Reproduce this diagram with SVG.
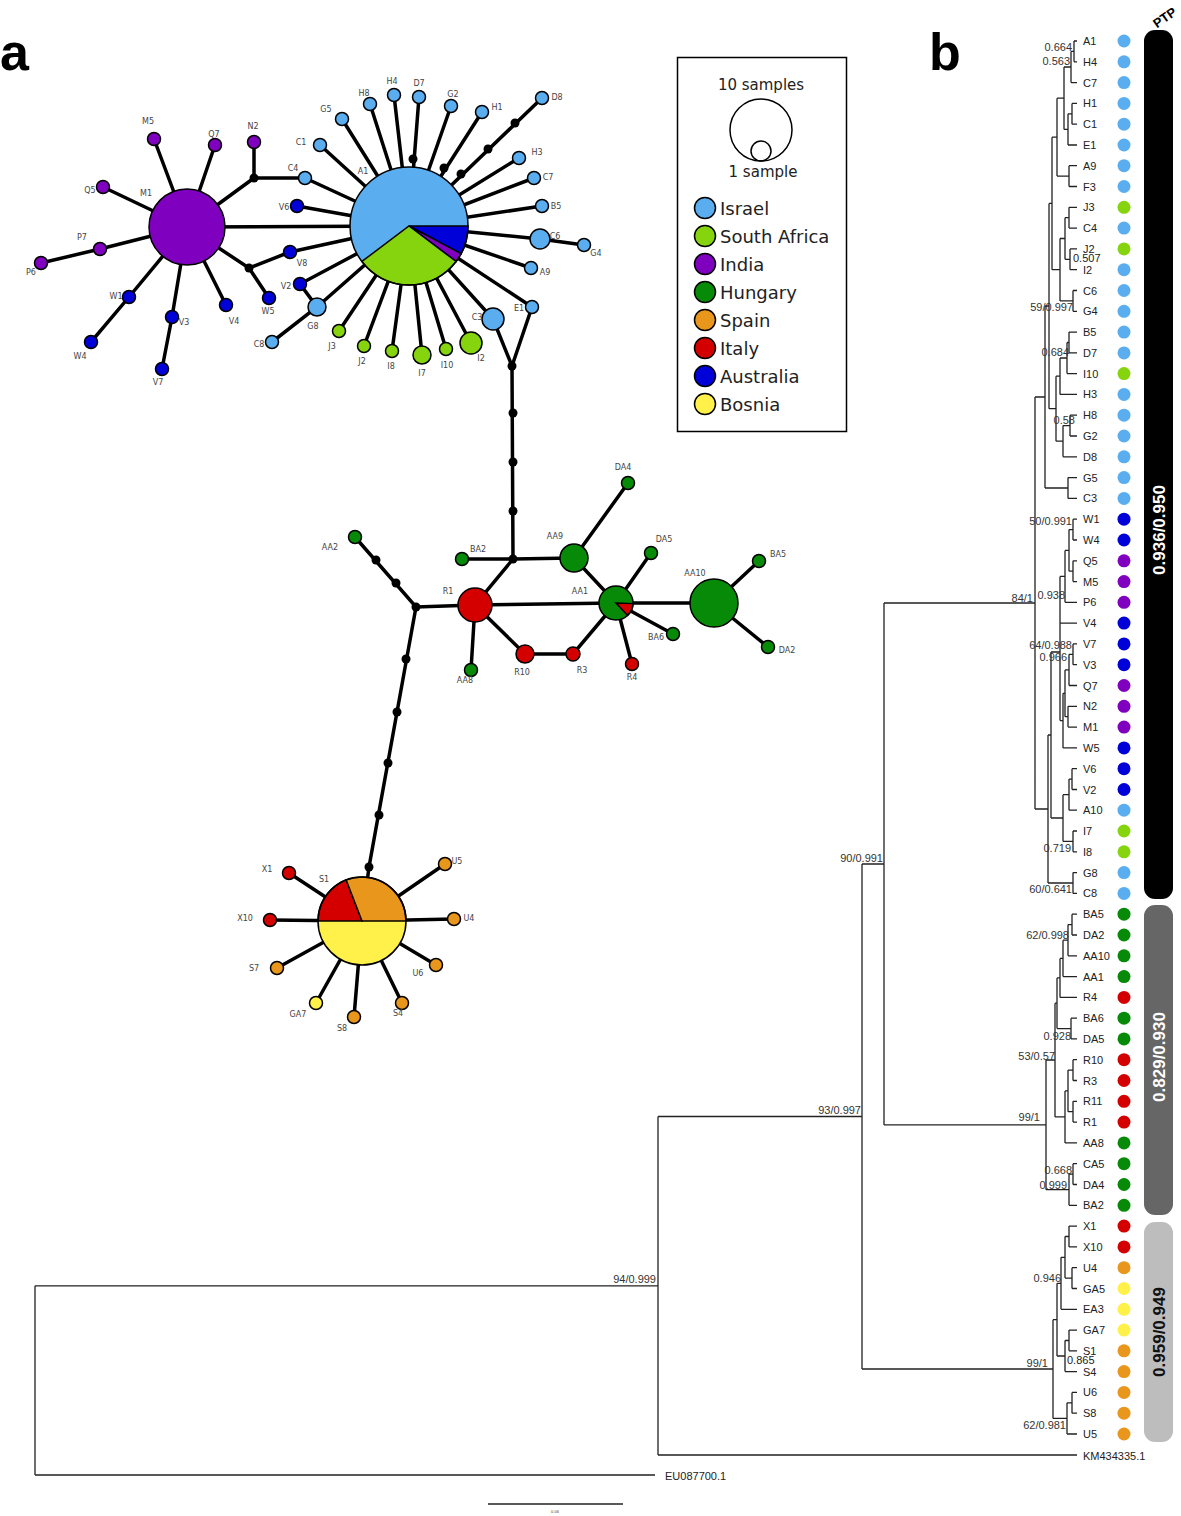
<svg xmlns="http://www.w3.org/2000/svg" width="1181" height="1516" viewBox="0 0 1181 1516">
<style>
.e{stroke:#000;stroke-width:3.5;fill:none;stroke-linecap:round}
.n{stroke:#000;stroke-width:1.5}
.lb{font-family:"DejaVu Sans",sans-serif;font-size:8px;fill:#444;text-anchor:middle}
.isr{fill:#5aaef0}.saf{fill:#86d40e}.ind{fill:#7f00bf}.hun{fill:#078a07}.spa{fill:#e8961c}.ita{fill:#d40000}.aus{fill:#0000d8}.bos{fill:#fff04a}
.mv{fill:#000}
.t{stroke:#222;stroke-width:1.3;fill:none}
.tl{font-family:"Liberation Sans",sans-serif;font-size:11px;fill:#222}
.bl{font-family:"Liberation Sans",sans-serif;font-size:11px;fill:#333;text-anchor:end}
.lg{font-family:"DejaVu Sans",sans-serif;font-size:18px;fill:#222}
.pl{font-family:"Liberation Sans",sans-serif;font-size:52px;font-weight:bold;fill:#000}
.bt{font-family:"Liberation Sans",sans-serif;font-size:17px;font-weight:bold;text-anchor:middle}
</style>
<rect width="1181" height="1516" fill="#fff"/>
<text class="pl" x="0" y="70">a</text>
<text class="pl" x="929" y="70">b</text>

<!-- network connectors -->
<g id="network-edges" class="e">
<path d="M187 227L154 139M187 227L215 145M187 227L254 178L254 142M254 178L305 178M187 227L103 187M187 227L100 249L41 263M187 227L129 297L91 342M187 227L172 317L162 369M187 227L226 305M187 227L249 268L269 298M249 268L290 252M187 227L409 226"/>
<path d="M409 226L305 178M409 226L297 206M409 226L290 252M409 226L300 284L317 307L272 342M409 226L317 307M409 226L320 145M409 226L342 119M409 226L370 104M409 226L394 95M409 226L419 97M409 226L451 106M409 226L482 112M409 226L542 98M409 226L519 158M409 226L534 178M409 226L542 206M409 226L540 239L584 245M409 226L531 268M409 226L532 307M409 226L493 319M409 226L471 343M409 226L446 349M409 226L422 355M409 226L392 351M409 226L364 346M409 226L339 331"/>
<path d="M493 319L512 366L532 307M512 366L513 559L462 559M513 559L574 558L616 603M574 558L628 483M513 559L475 605L616 603M475 605L416 607L355 537M416 607L369 867L362 921M475 605L471 670M475 605L525 654L573 654L616 603M616 603L651 553M616 603L714 603L759 561M714 603L768 647M616 603L673 634M616 603L632 664"/>
<path d="M362 921L289 873M362 921L270 920M362 921L277 968M362 921L316 1003M362 921L354 1017M362 921L402 1003M362 921L436 965M362 921L454 919M362 921L445 864"/>
</g>

<!-- median vectors -->
<g id="median-vectors" class="mv">
<circle cx="254" cy="178" r="4.5"/><circle cx="249" cy="268" r="4.5"/><circle cx="413" cy="159" r="4.5"/><circle cx="444" cy="168" r="4.5"/>
<circle cx="461" cy="174" r="4.5"/><circle cx="488" cy="149" r="4.5"/><circle cx="515" cy="123" r="4.5"/><circle cx="512" cy="366" r="4.5"/>
<circle cx="513" cy="413" r="4.5"/><circle cx="513" cy="462" r="4.5"/><circle cx="513" cy="511" r="4.5"/><circle cx="513" cy="559" r="4.5"/>
<circle cx="416" cy="607" r="4.5"/><circle cx="396" cy="583" r="4.5"/><circle cx="376" cy="560" r="4.5"/>
<circle cx="406" cy="659" r="4.5"/><circle cx="397" cy="712" r="4.5"/><circle cx="388" cy="763" r="4.5"/><circle cx="379" cy="815" r="4.5"/><circle cx="369" cy="867" r="4.5"/>
</g>

<!-- India / Australia cluster -->
<g id="n-M1"><circle class="n ind" cx="187" cy="227" r="38"/><text class="lb" x="146" y="196">M1</text></g>
<g id="n-M5"><circle class="n ind" cx="154" cy="139" r="6.5"/><text class="lb" x="148" y="124">M5</text></g>
<g id="n-Q7"><circle class="n ind" cx="215" cy="145" r="6.5"/><text class="lb" x="214" y="137">Q7</text></g>
<g id="n-N2"><circle class="n ind" cx="254" cy="142" r="6.5"/><text class="lb" x="253" y="129">N2</text></g>
<g id="n-Q5"><circle class="n ind" cx="103" cy="187" r="6.5"/><text class="lb" x="90" y="193">Q5</text></g>
<g id="n-P7"><circle class="n ind" cx="100" cy="249" r="6.5"/><text class="lb" x="82" y="240">P7</text></g>
<g id="n-P6"><circle class="n ind" cx="41" cy="263" r="6.5"/><text class="lb" x="31" y="275">P6</text></g>
<g id="n-W1"><circle class="n aus" cx="129" cy="297" r="6.5"/><text class="lb" x="116" y="299">W1</text></g>
<g id="n-W4"><circle class="n aus" cx="91" cy="342" r="6.5"/><text class="lb" x="80" y="359">W4</text></g>
<g id="n-V3"><circle class="n aus" cx="172" cy="317" r="6.5"/><text class="lb" x="184" y="325">V3</text></g>
<g id="n-V7"><circle class="n aus" cx="162" cy="369" r="6.5"/><text class="lb" x="158" y="385">V7</text></g>
<g id="n-V4"><circle class="n aus" cx="226" cy="305" r="6.5"/><text class="lb" x="234" y="324">V4</text></g>
<g id="n-W5"><circle class="n aus" cx="269" cy="298" r="6.5"/><text class="lb" x="268" y="314">W5</text></g>
<g id="n-V8"><circle class="n aus" cx="290" cy="252" r="6.5"/><text class="lb" x="302" y="266">V8</text></g>
<g id="n-V6"><circle class="n aus" cx="297" cy="206" r="6.5"/><text class="lb" x="284" y="210">V6</text></g>
<g id="n-V2"><circle class="n aus" cx="300" cy="284" r="6.5"/><text class="lb" x="286" y="289">V2</text></g>
<g id="n-G8"><circle class="n isr" cx="317" cy="307" r="9"/><text class="lb" x="313" y="329">G8</text></g>
<g id="n-C8"><circle class="n isr" cx="272" cy="342" r="6.5"/><text class="lb" x="259" y="347">C8</text></g>

<!-- Israel cluster -->
<g id="n-C4"><circle class="n isr" cx="305" cy="178" r="6.5"/><text class="lb" x="293" y="171">C4</text></g>
<g id="n-C1"><circle class="n isr" cx="320" cy="145" r="6.5"/><text class="lb" x="301" y="145">C1</text></g>
<g id="n-G5"><circle class="n isr" cx="342" cy="119" r="6.5"/><text class="lb" x="326" y="112">G5</text></g>
<g id="n-H8"><circle class="n isr" cx="370" cy="104" r="6.5"/><text class="lb" x="364" y="96">H8</text></g>
<g id="n-H4"><circle class="n isr" cx="394" cy="95" r="6.5"/><text class="lb" x="392" y="84">H4</text></g>
<g id="n-D7"><circle class="n isr" cx="419" cy="97" r="6.5"/><text class="lb" x="419" y="86">D7</text></g>
<g id="n-G2"><circle class="n isr" cx="451" cy="106" r="6.5"/><text class="lb" x="453" y="97">G2</text></g>
<g id="n-H1"><circle class="n isr" cx="482" cy="112" r="6.5"/><text class="lb" x="497" y="110">H1</text></g>
<g id="n-D8"><circle class="n isr" cx="542" cy="98" r="6.5"/><text class="lb" x="557" y="100">D8</text></g>
<g id="n-H3"><circle class="n isr" cx="519" cy="158" r="6.5"/><text class="lb" x="537" y="155">H3</text></g>
<g id="n-C7"><circle class="n isr" cx="534" cy="178" r="6.5"/><text class="lb" x="548" y="180">C7</text></g>
<g id="n-B5"><circle class="n isr" cx="542" cy="206" r="6.5"/><text class="lb" x="556" y="209">B5</text></g>
<g id="n-C6"><circle class="n isr" cx="540" cy="239" r="10"/><text class="lb" x="555" y="239">C6</text></g>
<g id="n-G4"><circle class="n isr" cx="584" cy="245" r="6.5"/><text class="lb" x="596" y="256">G4</text></g>
<g id="n-A9"><circle class="n isr" cx="531" cy="268" r="6.5"/><text class="lb" x="545" y="275">A9</text></g>
<g id="n-E1"><circle class="n isr" cx="532" cy="307" r="6.5"/><text class="lb" x="519" y="311">E1</text></g>
<g id="n-C3"><circle class="n isr" cx="493" cy="319" r="11"/><text class="lb" x="477" y="320">C3</text></g>
<g id="n-I2"><circle class="n saf" cx="471" cy="343" r="11"/><text class="lb" x="481" y="361">I2</text></g>
<g id="n-I10"><circle class="n saf" cx="446" cy="349" r="6.5"/><text class="lb" x="447" y="368">I10</text></g>
<g id="n-I7"><circle class="n saf" cx="422" cy="355" r="9"/><text class="lb" x="422" y="376">I7</text></g>
<g id="n-I8"><circle class="n saf" cx="392" cy="351" r="6.5"/><text class="lb" x="391" y="369">I8</text></g>
<g id="n-J2"><circle class="n saf" cx="364" cy="346" r="6.5"/><text class="lb" x="362" y="364">J2</text></g>
<g id="n-J3"><circle class="n saf" cx="339" cy="331" r="6.5"/><text class="lb" x="332" y="349">J3</text></g>
<g id="n-A1">
<circle class="isr" cx="409" cy="226" r="59"/>
<path class="n aus" d="M409 226L468 226A59 59 0 0 1 461.1 253.7Z"/>
<path class="n ind" d="M409 226L461.1 253.7A59 59 0 0 1 456.1 261.5Z"/>
<path class="n saf" d="M409 226L456.1 261.5A59 59 0 0 1 361.9 261.5Z"/>
<circle cx="409" cy="226" r="59" fill="none" stroke="#000" stroke-width="1.5"/>
<text class="lb" x="363" y="174">A1</text></g>

<!-- Hungary / Italy cluster -->
<g id="n-BA2"><circle class="n hun" cx="462" cy="559" r="6.5"/><text class="lb" x="478" y="552">BA2</text></g>
<g id="n-AA9"><circle class="n hun" cx="574" cy="558" r="14"/><text class="lb" x="555" y="539">AA9</text></g>
<g id="n-AA2"><circle class="n hun" cx="355" cy="537" r="6.5"/><text class="lb" x="330" y="550">AA2</text></g>
<g id="n-R1"><circle class="n ita" cx="475" cy="605" r="17"/><text class="lb" x="448" y="594">R1</text></g>
<g id="n-DA4"><circle class="n hun" cx="628" cy="483" r="6.5"/><text class="lb" x="623" y="470">DA4</text></g>
<g id="n-DA5"><circle class="n hun" cx="651" cy="553" r="6.5"/><text class="lb" x="664" y="542">DA5</text></g>
<g id="n-AA10"><circle class="n hun" cx="714" cy="603" r="24"/><text class="lb" x="695" y="576">AA10</text></g>
<g id="n-BA5"><circle class="n hun" cx="759" cy="561" r="6.5"/><text class="lb" x="778" y="557">BA5</text></g>
<g id="n-DA2"><circle class="n hun" cx="768" cy="647" r="6.5"/><text class="lb" x="787" y="653">DA2</text></g>
<g id="n-BA6"><circle class="n hun" cx="673" cy="634" r="6.5"/><text class="lb" x="656" y="640">BA6</text></g>
<g id="n-R4"><circle class="n ita" cx="632" cy="664" r="6.5"/><text class="lb" x="632" y="680">R4</text></g>
<g id="n-R3"><circle class="n ita" cx="573" cy="654" r="7"/><text class="lb" x="582" y="673">R3</text></g>
<g id="n-R10"><circle class="n ita" cx="525" cy="654" r="9"/><text class="lb" x="522" y="675">R10</text></g>
<g id="n-AA8"><circle class="n hun" cx="471" cy="670" r="6.5"/><text class="lb" x="465" y="683">AA8</text></g>
<g id="n-AA1">
<circle class="hun" cx="616" cy="603" r="17"/>
<path class="n ita" d="M616 603L633 603.6A17 17 0 0 1 627.6 615.4Z"/>
<circle cx="616" cy="603" r="17" fill="none" stroke="#000" stroke-width="1.5"/>
<text class="lb" x="580" y="594">AA1</text></g>

<!-- Spain / Bosnia cluster -->
<g id="n-X1"><circle class="n ita" cx="289" cy="873" r="6.5"/><text class="lb" x="267" y="872">X1</text></g>
<g id="n-X10"><circle class="n ita" cx="270" cy="920" r="6.5"/><text class="lb" x="245" y="921">X10</text></g>
<g id="n-S7"><circle class="n spa" cx="277" cy="968" r="6.5"/><text class="lb" x="254" y="971">S7</text></g>
<g id="n-GA7"><circle class="n bos" cx="316" cy="1003" r="6.5"/><text class="lb" x="298" y="1017">GA7</text></g>
<g id="n-S8"><circle class="n spa" cx="354" cy="1017" r="6.5"/><text class="lb" x="342" y="1031">S8</text></g>
<g id="n-S4"><circle class="n spa" cx="402" cy="1003" r="6.5"/><text class="lb" x="398" y="1016">S4</text></g>
<g id="n-U6"><circle class="n spa" cx="436" cy="965" r="6.5"/><text class="lb" x="418" y="976">U6</text></g>
<g id="n-U4"><circle class="n spa" cx="454" cy="919" r="6.5"/><text class="lb" x="469" y="921">U4</text></g>
<g id="n-U5"><circle class="n spa" cx="445" cy="864" r="6.5"/><text class="lb" x="457" y="864">U5</text></g>
<g id="n-S1">
<circle class="bos" cx="362" cy="921" r="44"/>
<path class="n ita" d="M362 921L318 921A44 44 0 0 1 346.2 879.9Z"/>
<path class="n spa" d="M362 921L346.2 879.9A44 44 0 0 1 406 921Z"/>
<circle cx="362" cy="921" r="44" fill="none" stroke="#000" stroke-width="1.5"/>
<text class="lb" x="324" y="882">S1</text></g>

<!-- legend -->
<g id="legend">
<rect x="677.5" y="57.5" width="169" height="374" fill="#fff" stroke="#000" stroke-width="1.5"/>
<text x="761" y="90" font-family="DejaVu Sans, sans-serif" font-size="15" fill="#222" text-anchor="middle">10 samples</text>
<circle cx="761" cy="130" r="31" fill="none" stroke="#000" stroke-width="1.5"/>
<circle cx="761" cy="151" r="10" fill="none" stroke="#000" stroke-width="1.5"/>
<text x="763" y="177" font-family="DejaVu Sans, sans-serif" font-size="15" fill="#222" text-anchor="middle">1 sample</text>
<circle class="n isr" cx="705" cy="208" r="10.5"/><text class="lg" x="720" y="215">Israel</text>
<circle class="n saf" cx="705" cy="236" r="10.5"/><text class="lg" x="720" y="243">South Africa</text>
<circle class="n ind" cx="705" cy="264" r="10.5"/><text class="lg" x="720" y="271">India</text>
<circle class="n hun" cx="705" cy="292" r="10.5"/><text class="lg" x="720" y="299">Hungary</text>
<circle class="n spa" cx="705" cy="320" r="10.5"/><text class="lg" x="720" y="327">Spain</text>
<circle class="n ita" cx="705" cy="348" r="10.5"/><text class="lg" x="720" y="355">Italy</text>
<circle class="n aus" cx="705" cy="376" r="10.5"/><text class="lg" x="720" y="383">Australia</text>
<circle class="n bos" cx="705" cy="404" r="10.5"/><text class="lg" x="720" y="411">Bosnia</text>
</g>

<!-- tree branches -->
<g id="tree-edges" class="t">
<path d="M1074 41V61.8M1074 41H1077M1074 61.8H1077M1071 51.4V82.6M1071 51.4H1074M1071 82.6H1077M1072 103.4V124.2M1072 103.4H1077M1072 124.2H1077M1068 113.8V145M1068 113.8H1072M1068 145H1077M1064 67V129.4M1064 67H1071M1064 129.4H1068M1069 165.7V186.5M1069 165.7H1077M1069 186.5H1077M1057 98.2V176.1M1057 98.2H1064M1057 176.1H1069"/>
<path d="M1069 207.3V228.1M1069 207.3H1077M1069 228.1H1077M1070 248.9V269.7M1070 248.9H1077M1070 269.7H1077M1065 217.7V259.3M1065 217.7H1069M1065 259.3H1070M1073 290.5V311.3M1073 290.5H1077M1073 311.3H1077M1060 238.5V300.9M1060 238.5H1065M1060 300.9H1073M1052 137.2V269.7M1052 137.2H1057M1052 269.7H1060"/>
<path d="M1069 332.1V352.9M1069 332.1H1077M1069 352.9H1077M1067 342.5V373.6M1067 342.5H1069M1067 373.6H1077M1060 358V394.4M1060 358H1067M1060 394.4H1077M1070 415.2V436M1070 415.2H1077M1070 436H1077M1063 425.6V456.8M1063 425.6H1070M1063 456.8H1077M1056 376.2V441.2M1056 376.2H1060M1056 441.2H1063M1049 203.4V408.7M1049 203.4H1052M1049 408.7H1056M1068 477.6V498.4M1068 477.6H1077M1068 498.4H1077M1045 306V488M1045 306H1049M1045 488H1068"/>
<path d="M1073 519.2V540M1073 519.2H1077M1073 540H1077M1073 560.8V581.6M1073 560.8H1077M1073 581.6H1077M1069 529.6V571.2M1069 529.6H1073M1069 571.2H1073M1065 550.4V602.3M1065 550.4H1069M1065 602.3H1077M1073 643.9V664.7M1073 643.9H1077M1073 664.7H1077M1069 654.3V685.5M1069 654.3H1073M1069 685.5H1077M1068 706.3V727.1M1068 706.3H1077M1068 727.1H1077M1065 669.9V716.7M1065 669.9H1069M1065 716.7H1068M1063 693.3V747.9M1063 693.3H1065M1063 747.9H1077M1060 576.4V720.6M1060 576.4H1065M1060 623.1H1077M1060 720.6H1063"/>
<path d="M1072 768.7V789.5M1072 768.7H1077M1072 789.5H1077M1069 779.1V810.2M1069 779.1H1072M1069 810.2H1077M1073 831V851.8M1073 831H1077M1073 851.8H1077M1063 794.7V841.4M1063 794.7H1069M1063 841.4H1073M1051 652V818M1051 652H1060M1051 818H1063M1073 872.6V893.4M1073 872.6H1077M1073 893.4H1077M1048 735V883M1048 735H1051M1048 883H1073M1035 397V809M1035 397H1045M1035 809H1048"/>
<path d="M1072 914.2V935M1072 914.2H1077M1072 935H1077M1068 924.6V955.8M1068 924.6H1072M1068 955.8H1077M1063 940.2V976.6M1063 940.2H1068M1063 976.6H1077M1060 958.4V997.4M1060 958.4H1063M1060 997.4H1077M1071 1018.2V1038.9M1071 1018.2H1077M1071 1038.9H1077M1057 977.9V1028.6M1057 977.9H1060M1057 1028.6H1071M1073 1059.7V1080.5M1073 1059.7H1077M1073 1080.5H1077M1073 1101.3V1122.1M1073 1101.3H1077M1073 1122.1H1077M1068 1070.1V1111.7M1068 1070.1H1073M1068 1111.7H1073M1065 1090.9V1142.9M1065 1090.9H1068M1065 1142.9H1077M1055 1003.2V1116.9M1055 1003.2H1057M1055 1116.9H1065M1073 1163.7V1184.5M1073 1163.7H1077M1073 1184.5H1077M1069 1174.1V1205.3M1069 1174.1H1073M1069 1205.3H1077M1046 1060V1189.7M1046 1060H1055M1046 1189.7H1069"/>
<path d="M1069 1226.1V1246.9M1069 1226.1H1077M1069 1246.9H1077M1072 1267.7V1288.5M1072 1267.7H1077M1072 1288.5H1077M1065 1236.5V1278.1M1065 1236.5H1069M1065 1278.1H1072M1061 1257.3V1309.3M1061 1257.3H1065M1061 1309.3H1077M1069 1330.1V1350.8M1069 1330.1H1077M1069 1350.8H1077M1065 1340.5V1371.6M1065 1340.5H1069M1065 1371.6H1077M1057 1283.3V1356M1057 1283.3H1061M1057 1356H1065M1072 1392.4V1413.2M1072 1392.4H1077M1072 1413.2H1077M1067 1402.8V1434M1067 1402.8H1072M1067 1434H1077M1053 1319.7V1418.4M1053 1319.7H1057M1053 1418.4H1067"/>
<path d="M884 603V1124.9M884 603H1035M884 1124.9H1046M862 864V1369M862 864H884M862 1369H1053M658 1116.5V1455M658 1116.5H862M658 1455H1077M35 1285.8V1475M35 1285.8H658M35 1475H655"/>
</g>

<!-- node support labels -->
<g id="tree-support">
<text class="bl" x="1072" y="51">0.664</text>
<text class="bl" x="1070" y="65">0.563</text>
<text class="tl" x="1073" y="262">0.507</text>
<text class="bl" x="1073" y="311">59/0.997</text>
<text class="bl" x="1069" y="356">0.684</text>
<text class="bl" x="1075" y="424">0.58</text>
<text class="bl" x="1072" y="525">50/0.991</text>
<text class="bl" x="1065" y="599">0.938</text>
<text class="bl" x="1033" y="602">84/1</text>
<text class="bl" x="1072" y="649">64/0.988</text>
<text class="bl" x="1067" y="661">0.966</text>
<text class="bl" x="1071" y="852">0.719</text>
<text class="bl" x="1072" y="893">60/0.641</text>
<text class="bl" x="883" y="862">90/0.991</text>
<text class="bl" x="1069" y="939">62/0.998</text>
<text class="bl" x="1071" y="1040">0.928</text>
<text class="bl" x="1055" y="1060">53/0.57</text>
<text class="bl" x="1040" y="1121">99/1</text>
<text class="bl" x="861" y="1114">93/0.997</text>
<text class="bl" x="1072" y="1174">0.668</text>
<text class="bl" x="1067" y="1189">0.999</text>
<text class="bl" x="1061" y="1282">0.946</text>
<text class="tl" x="1067" y="1364">0.865</text>
<text class="bl" x="1048" y="1367">99/1</text>
<text class="bl" x="1066" y="1429">62/0.981</text>
<text class="bl" x="656" y="1283">94/0.999</text>
</g>

<!-- leaves -->
<g id="leaf-A1"><text class="tl" x="1083" y="45">A1</text><circle class="isr" cx="1124" cy="41" r="6.5"/></g>
<g id="leaf-H4"><text class="tl" x="1083" y="65.8">H4</text><circle class="isr" cx="1124" cy="61.8" r="6.5"/></g>
<g id="leaf-C7"><text class="tl" x="1083" y="86.6">C7</text><circle class="isr" cx="1124" cy="82.6" r="6.5"/></g>
<g id="leaf-H1"><text class="tl" x="1083" y="107.4">H1</text><circle class="isr" cx="1124" cy="103.4" r="6.5"/></g>
<g id="leaf-C1"><text class="tl" x="1083" y="128.2">C1</text><circle class="isr" cx="1124" cy="124.2" r="6.5"/></g>
<g id="leaf-E1"><text class="tl" x="1083" y="149">E1</text><circle class="isr" cx="1124" cy="145" r="6.5"/></g>
<g id="leaf-A9"><text class="tl" x="1083" y="169.7">A9</text><circle class="isr" cx="1124" cy="165.7" r="6.5"/></g>
<g id="leaf-F3"><text class="tl" x="1083" y="190.5">F3</text><circle class="isr" cx="1124" cy="186.5" r="6.5"/></g>
<g id="leaf-J3"><text class="tl" x="1083" y="211.3">J3</text><circle class="saf" cx="1124" cy="207.3" r="6.5"/></g>
<g id="leaf-C4"><text class="tl" x="1083" y="232.1">C4</text><circle class="isr" cx="1124" cy="228.1" r="6.5"/></g>
<g id="leaf-J2"><text class="tl" x="1083" y="252.9">J2</text><circle class="saf" cx="1124" cy="248.9" r="6.5"/></g>
<g id="leaf-I2"><text class="tl" x="1083" y="273.7">I2</text><circle class="isr" cx="1124" cy="269.7" r="6.5"/></g>
<g id="leaf-C6"><text class="tl" x="1083" y="294.5">C6</text><circle class="isr" cx="1124" cy="290.5" r="6.5"/></g>
<g id="leaf-G4"><text class="tl" x="1083" y="315.3">G4</text><circle class="isr" cx="1124" cy="311.3" r="6.5"/></g>
<g id="leaf-B5"><text class="tl" x="1083" y="336.1">B5</text><circle class="isr" cx="1124" cy="332.1" r="6.5"/></g>
<g id="leaf-D7"><text class="tl" x="1083" y="356.9">D7</text><circle class="isr" cx="1124" cy="352.9" r="6.5"/></g>
<g id="leaf-I10"><text class="tl" x="1083" y="377.6">I10</text><circle class="saf" cx="1124" cy="373.6" r="6.5"/></g>
<g id="leaf-H3"><text class="tl" x="1083" y="398.4">H3</text><circle class="isr" cx="1124" cy="394.4" r="6.5"/></g>
<g id="leaf-H8"><text class="tl" x="1083" y="419.2">H8</text><circle class="isr" cx="1124" cy="415.2" r="6.5"/></g>
<g id="leaf-G2"><text class="tl" x="1083" y="440">G2</text><circle class="isr" cx="1124" cy="436" r="6.5"/></g>
<g id="leaf-D8"><text class="tl" x="1083" y="460.8">D8</text><circle class="isr" cx="1124" cy="456.8" r="6.5"/></g>
<g id="leaf-G5"><text class="tl" x="1083" y="481.6">G5</text><circle class="isr" cx="1124" cy="477.6" r="6.5"/></g>
<g id="leaf-C3"><text class="tl" x="1083" y="502.4">C3</text><circle class="isr" cx="1124" cy="498.4" r="6.5"/></g>
<g id="leaf-W1"><text class="tl" x="1083" y="523.2">W1</text><circle class="aus" cx="1124" cy="519.2" r="6.5"/></g>
<g id="leaf-W4"><text class="tl" x="1083" y="544">W4</text><circle class="aus" cx="1124" cy="540" r="6.5"/></g>
<g id="leaf-Q5"><text class="tl" x="1083" y="564.8">Q5</text><circle class="ind" cx="1124" cy="560.8" r="6.5"/></g>
<g id="leaf-M5"><text class="tl" x="1083" y="585.6">M5</text><circle class="ind" cx="1124" cy="581.6" r="6.5"/></g>
<g id="leaf-P6"><text class="tl" x="1083" y="606.3">P6</text><circle class="ind" cx="1124" cy="602.3" r="6.5"/></g>
<g id="leaf-V4"><text class="tl" x="1083" y="627.1">V4</text><circle class="aus" cx="1124" cy="623.1" r="6.5"/></g>
<g id="leaf-V7"><text class="tl" x="1083" y="647.9">V7</text><circle class="aus" cx="1124" cy="643.9" r="6.5"/></g>
<g id="leaf-V3"><text class="tl" x="1083" y="668.7">V3</text><circle class="aus" cx="1124" cy="664.7" r="6.5"/></g>
<g id="leaf-Q7"><text class="tl" x="1083" y="689.5">Q7</text><circle class="ind" cx="1124" cy="685.5" r="6.5"/></g>
<g id="leaf-N2"><text class="tl" x="1083" y="710.3">N2</text><circle class="ind" cx="1124" cy="706.3" r="6.5"/></g>
<g id="leaf-M1"><text class="tl" x="1083" y="731.1">M1</text><circle class="ind" cx="1124" cy="727.1" r="6.5"/></g>
<g id="leaf-W5"><text class="tl" x="1083" y="751.9">W5</text><circle class="aus" cx="1124" cy="747.9" r="6.5"/></g>
<g id="leaf-V6"><text class="tl" x="1083" y="772.7">V6</text><circle class="aus" cx="1124" cy="768.7" r="6.5"/></g>
<g id="leaf-V2"><text class="tl" x="1083" y="793.5">V2</text><circle class="aus" cx="1124" cy="789.5" r="6.5"/></g>
<g id="leaf-A10"><text class="tl" x="1083" y="814.2">A10</text><circle class="isr" cx="1124" cy="810.2" r="6.5"/></g>
<g id="leaf-I7"><text class="tl" x="1083" y="835">I7</text><circle class="saf" cx="1124" cy="831" r="6.5"/></g>
<g id="leaf-I8"><text class="tl" x="1083" y="855.8">I8</text><circle class="saf" cx="1124" cy="851.8" r="6.5"/></g>
<g id="leaf-G8"><text class="tl" x="1083" y="876.6">G8</text><circle class="isr" cx="1124" cy="872.6" r="6.5"/></g>
<g id="leaf-C8"><text class="tl" x="1083" y="897.4">C8</text><circle class="isr" cx="1124" cy="893.4" r="6.5"/></g>
<g id="leaf-BA5"><text class="tl" x="1083" y="918.2">BA5</text><circle class="hun" cx="1124" cy="914.2" r="6.5"/></g>
<g id="leaf-DA2"><text class="tl" x="1083" y="939">DA2</text><circle class="hun" cx="1124" cy="935" r="6.5"/></g>
<g id="leaf-AA10"><text class="tl" x="1083" y="959.8">AA10</text><circle class="hun" cx="1124" cy="955.8" r="6.5"/></g>
<g id="leaf-AA1"><text class="tl" x="1083" y="980.6">AA1</text><circle class="hun" cx="1124" cy="976.6" r="6.5"/></g>
<g id="leaf-R4"><text class="tl" x="1083" y="1001.4">R4</text><circle class="ita" cx="1124" cy="997.4" r="6.5"/></g>
<g id="leaf-BA6"><text class="tl" x="1083" y="1022.2">BA6</text><circle class="hun" cx="1124" cy="1018.2" r="6.5"/></g>
<g id="leaf-DA5"><text class="tl" x="1083" y="1042.9">DA5</text><circle class="hun" cx="1124" cy="1038.9" r="6.5"/></g>
<g id="leaf-R10"><text class="tl" x="1083" y="1063.7">R10</text><circle class="ita" cx="1124" cy="1059.7" r="6.5"/></g>
<g id="leaf-R3"><text class="tl" x="1083" y="1084.5">R3</text><circle class="ita" cx="1124" cy="1080.5" r="6.5"/></g>
<g id="leaf-R11"><text class="tl" x="1083" y="1105.3">R11</text><circle class="ita" cx="1124" cy="1101.3" r="6.5"/></g>
<g id="leaf-R1"><text class="tl" x="1083" y="1126.1">R1</text><circle class="ita" cx="1124" cy="1122.1" r="6.5"/></g>
<g id="leaf-AA8"><text class="tl" x="1083" y="1146.9">AA8</text><circle class="hun" cx="1124" cy="1142.9" r="6.5"/></g>
<g id="leaf-CA5"><text class="tl" x="1083" y="1167.7">CA5</text><circle class="hun" cx="1124" cy="1163.7" r="6.5"/></g>
<g id="leaf-DA4"><text class="tl" x="1083" y="1188.5">DA4</text><circle class="hun" cx="1124" cy="1184.5" r="6.5"/></g>
<g id="leaf-BA2"><text class="tl" x="1083" y="1209.3">BA2</text><circle class="hun" cx="1124" cy="1205.3" r="6.5"/></g>
<g id="leaf-X1"><text class="tl" x="1083" y="1230.1">X1</text><circle class="ita" cx="1124" cy="1226.1" r="6.5"/></g>
<g id="leaf-X10"><text class="tl" x="1083" y="1250.9">X10</text><circle class="ita" cx="1124" cy="1246.9" r="6.5"/></g>
<g id="leaf-U4"><text class="tl" x="1083" y="1271.7">U4</text><circle class="spa" cx="1124" cy="1267.7" r="6.5"/></g>
<g id="leaf-GA5"><text class="tl" x="1083" y="1292.5">GA5</text><circle class="bos" cx="1124" cy="1288.5" r="6.5"/></g>
<g id="leaf-EA3"><text class="tl" x="1083" y="1313.3">EA3</text><circle class="bos" cx="1124" cy="1309.3" r="6.5"/></g>
<g id="leaf-GA7"><text class="tl" x="1083" y="1334.1">GA7</text><circle class="bos" cx="1124" cy="1330.1" r="6.5"/></g>
<g id="leaf-S1"><text class="tl" x="1083" y="1354.8">S1</text><circle class="spa" cx="1124" cy="1350.8" r="6.5"/></g>
<g id="leaf-S4"><text class="tl" x="1083" y="1375.6">S4</text><circle class="spa" cx="1124" cy="1371.6" r="6.5"/></g>
<g id="leaf-U6"><text class="tl" x="1083" y="1396.4">U6</text><circle class="spa" cx="1124" cy="1392.4" r="6.5"/></g>
<g id="leaf-S8"><text class="tl" x="1083" y="1417.2">S8</text><circle class="spa" cx="1124" cy="1413.2" r="6.5"/></g>
<g id="leaf-U5"><text class="tl" x="1083" y="1438">U5</text><circle class="spa" cx="1124" cy="1434" r="6.5"/></g>
<g id="leaf-KM434335"><text class="tl" x="1083" y="1460" font-size="13">KM434335.1</text></g>
<g id="leaf-EU087700"><text class="tl" x="665" y="1480">EU087700.1</text></g>

<!-- PTP bars -->
<g id="ptp">
<text x="1165" y="22" font-family="Liberation Sans, sans-serif" font-size="13" font-weight="bold" text-anchor="middle" transform="rotate(-35 1165 18)">PTP</text>
<rect x="1144" y="30" width="29" height="869" rx="11" fill="#000"/>
<text class="bt" fill="#fff" transform="translate(1164.5 530) rotate(-90)">0.936/0.950</text>
<rect x="1144" y="905" width="29" height="310" rx="11" fill="#666"/>
<text class="bt" fill="#fff" transform="translate(1164.5 1057) rotate(-90)">0.829/0.930</text>
<rect x="1144" y="1222" width="29" height="220" rx="11" fill="#bdbdbd"/>
<text class="bt" fill="#111" transform="translate(1164.5 1332) rotate(-90)">0.959/0.949</text>
</g>

<!-- scale bar -->
<g id="scale-bar">
<path d="M488 1504H623" stroke="#222" stroke-width="1.5"/>
<text x="555" y="1513" font-family="Liberation Sans, sans-serif" font-size="4" fill="#444" text-anchor="middle">0.06</text>
</g>
</svg>
